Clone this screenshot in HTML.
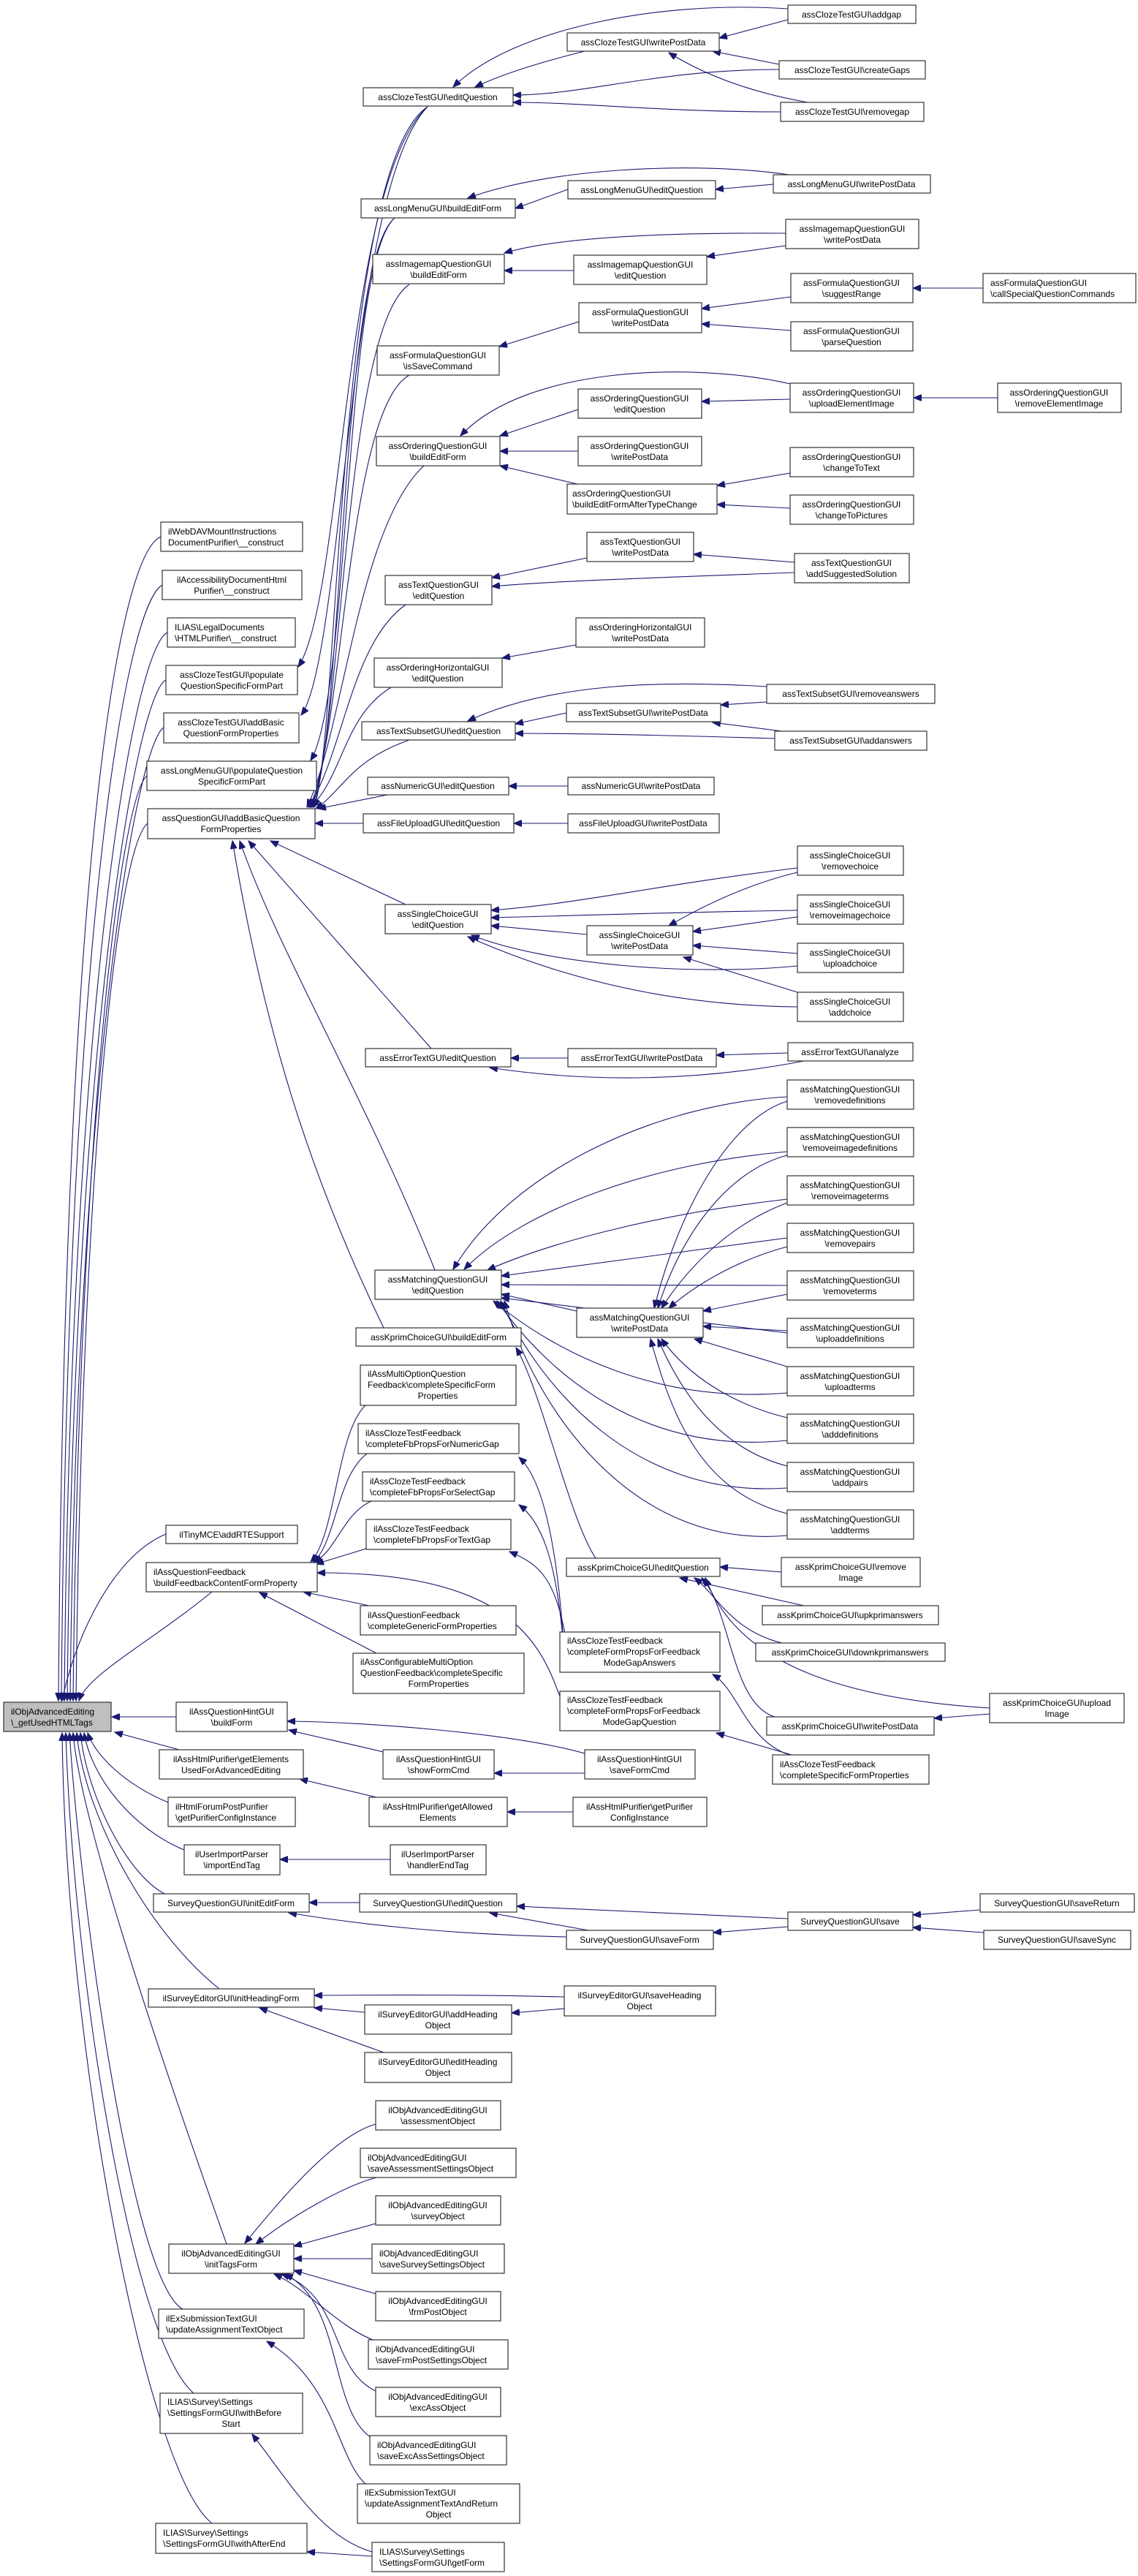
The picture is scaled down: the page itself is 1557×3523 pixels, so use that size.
<!DOCTYPE html>
<html><head><meta charset="utf-8"><style>
html,body{margin:0;padding:0;background:#fff}
svg{display:block}
text{font-family:"Liberation Sans",Arial,sans-serif;font-size:12px;fill:#000;text-anchor:middle}
text.l{text-anchor:start}
rect{fill:#fff;stroke:#333;stroke-width:1.2}
path{fill:none;stroke:#191970;stroke-width:1.1}
</style></head><body>
<svg width="1557" height="3523" viewBox="0 0 1557 3523" xmlns="http://www.w3.org/2000/svg">
<defs><marker id="a" markerUnits="userSpaceOnUse" markerWidth="12" markerHeight="9" refX="11" refY="4.5" orient="auto"><path d="M0,0 L11,4.5 L0,9 z" style="fill:#191970;stroke:#191970"/></marker></defs>
<g marker-end="url(#a)">
<!-- cloze -->
<path d="M1066 95 C900 95 800 130 702 130"/>
<path d="M1068 153 C900 153 800 140 702 140"/>
<path d="M1078 12 C900 0 700 40 620 119"/>
<path d="M800 70 C720 90 680 105 650 119"/>
<path d="M1078 27 L984 52"/>
<path d="M1066 88 L975 70"/>
<path d="M1105 140 C1020 125 960 100 915 72"/>
<!-- longmenu -->
<path d="M777 259 L705 285"/>
<path d="M1080 239 C950 220 750 230 640 271"/>
<path d="M1058 252 L979 259"/>
<!-- imagemap -->
<path d="M785 370 L690 370"/>
<path d="M1075 336 L967 351"/>
<path d="M1075 319 C900 318 760 325 690 346"/>
<!-- formula -->
<path d="M792 440 L683 474"/>
<path d="M1082 406 L960 422"/>
<path d="M1082 452 L960 443"/>
<path d="M1345 394 L1249 394"/>
<!-- ordering -->
<path d="M791 560 L684 596"/>
<path d="M791 617 L684 617"/>
<path d="M790 662 L684 637"/>
<path d="M1081 525 C950 495 720 500 630 596"/>
<path d="M1081 546 L960 549"/>
<path d="M1365 544 L1250 544"/>
<path d="M1081 647 L981 664"/>
<path d="M1081 695 L981 690"/>
<!-- textquestion -->
<path d="M803 763 L673 790"/>
<path d="M1087 783 C900 790 750 795 673 802"/>
<path d="M1087 769 L949 758"/>
<path d="M788 882 L687 900"/>
<!-- textsubset -->
<path d="M775 975 L705 990"/>
<path d="M1060 1010 C900 1005 780 1003 705 1003"/>
<path d="M1049 939 C900 930 750 935 640 986"/>
<path d="M1049 960 L986 964"/>
<path d="M1070 1000 L975 988"/>
<path d="M777 1075 L696 1075"/>
<path d="M777 1126 L703 1126"/>
<!-- singlechoice -->
<path d="M1091 1187 C900 1210 800 1235 672 1245"/>
<path d="M1091 1245 C900 1248 800 1252 672 1255"/>
<path d="M803 1278 L672 1266"/>
<path d="M1091 1321 C950 1335 750 1320 645 1279"/>
<path d="M1091 1377 C900 1375 750 1330 640 1281"/>
<path d="M1091 1193 C1020 1210 960 1240 915 1266"/>
<path d="M1091 1254 L948 1274"/>
<path d="M1091 1304 L948 1293"/>
<path d="M1091 1357 L935 1309"/>
<!-- errortext -->
<path d="M777 1447 L699 1447"/>
<path d="M1100 1451 C950 1480 800 1480 670 1460"/>
<path d="M1078 1440 L980 1443"/>
<!-- matching -->
<path d="M1077 1500 C900 1510 700 1600 620 1736"/>
<path d="M1077 1575 C900 1590 720 1650 635 1736"/>
<path d="M1077 1640 C900 1660 750 1700 667 1737"/>
<path d="M1077 1693 L686 1745"/>
<path d="M1077 1758 L686 1757"/>
<path d="M1077 1823 L686 1775"/>
<path d="M1077 1905 C900 1920 760 1850 675 1779"/>
<path d="M1077 1970 C880 1990 750 1880 680 1779"/>
<path d="M1077 2035 C870 2050 740 1900 685 1779"/>
<path d="M1077 2100 C860 2120 730 1920 690 1779"/>
<path d="M789 1793 L686 1770"/>
<path d="M1077 1506 C1000 1530 930 1650 895 1789"/>
<path d="M1077 1580 C1000 1600 935 1680 900 1789"/>
<path d="M1077 1645 C1010 1670 950 1720 905 1789"/>
<path d="M1077 1705 C1020 1720 960 1750 915 1789"/>
<path d="M1077 1770 L962 1793"/>
<path d="M1077 1820 L962 1814"/>
<path d="M1077 1869 L950 1831"/>
<path d="M1077 1939 C1000 1920 940 1880 905 1831"/>
<path d="M1077 2005 C980 1980 930 1900 900 1831"/>
<path d="M1077 2070 C960 2040 920 1940 890 1831"/>
<!-- kprim -->
<path d="M815 2131 C780 2080 740 1900 706 1843"/>
<path d="M1069 2150 L985 2143"/>
<path d="M1100 2196 L930 2158"/>
<path d="M1070 2247 C1000 2230 980 2180 950 2158"/>
<path d="M1060 2348 C1000 2330 1000 2200 960 2158"/>
<path d="M1354 2336 C1100 2320 1000 2250 965 2158"/>
<path d="M1354 2344 L1278 2350"/>
<!-- feedback -->
<path d="M500 1922 C460 1960 460 2100 425 2136"/>
<path d="M502 1988 C460 2020 460 2110 428 2137"/>
<path d="M508 2053 C470 2070 460 2120 430 2137"/>
<path d="M501 2118 L432 2139"/>
<path d="M505 2196 L415 2177"/>
<path d="M515 2261 L355 2178"/>
<path d="M766 2320 C740 2250 700 2150 434 2151"/>
<path d="M770 2232 C760 2100 740 2020 710 1993"/>
<path d="M770 2240 C760 2130 740 2080 710 2058"/>
<path d="M775 2245 C760 2160 740 2140 697 2122"/>
<path d="M1080 2400 C1020 2380 1010 2310 975 2290"/>
<path d="M1090 2402 L980 2370"/>
<!-- hint / purifier / survey -->
<path d="M524 2396 C480 2385 430 2375 395 2366"/>
<path d="M800 2398 C700 2370 500 2355 393 2354"/>
<path d="M800 2425 L676 2425"/>
<path d="M515 2458 L410 2433"/>
<path d="M784 2478 L694 2478"/>
<path d="M534 2543 L383 2543"/>
<path d="M492 2602 L423 2602"/>
<path d="M775 2649 C600 2645 480 2630 395 2616"/>
<path d="M805 2640 L670 2616"/>
<path d="M1078 2624 L707 2607"/>
<path d="M1078 2635 L976 2643"/>
<path d="M1341 2612 L1249 2619"/>
<path d="M1346 2643 L1249 2636"/>
<path d="M772 2731 C650 2728 550 2728 430 2729"/>
<path d="M772 2747 L700 2753"/>
<path d="M499 2752 L430 2746"/>
<path d="M525 2807 L355 2746"/>
<!-- adv editing -->
<path d="M514 2905 C460 2920 390 3000 335 3068"/>
<path d="M515 2978 C470 2990 400 3030 350 3069"/>
<path d="M514 3041 L402 3072"/>
<path d="M509 3089 L402 3089"/>
<path d="M514 3137 L402 3105"/>
<path d="M510 3200 C460 3180 420 3130 375 3110"/>
<path d="M514 3270 C450 3240 470 3140 385 3110"/>
<path d="M510 3335 C450 3300 470 3150 390 3110"/>
<path d="M500 3397 C460 3360 460 3260 365 3202"/>
<path d="M509 3490 C440 3470 400 3400 345 3329"/>
<path d="M509 3496 L420 3490"/>
<!-- to addBasic -->
<path d="M585 146 C460 230 465 1000 430 1104"/>
<path d="M540 298 C465 360 470 1000 428 1104"/>
<path d="M560 389 C470 450 470 1000 426 1104"/>
<path d="M560 513 C475 560 470 1000 424 1104"/>
<path d="M580 637 C490 720 470 1000 420 1104"/>
<path d="M555 827 C480 880 470 1030 422 1104"/>
<path d="M535 940 C470 980 470 1060 425 1104"/>
<path d="M560 1012 C480 1040 470 1080 432 1106"/>
<path d="M530 1087 L435 1106"/>
<path d="M497 1126 L431 1126"/>
<path d="M555 1237 L370 1150"/>
<path d="M590 1434 L340 1150"/>
<path d="M595 1737 C500 1500 380 1300 328 1150"/>
<path d="M525 1816 C420 1600 360 1400 318 1150"/>
<path d="M585 146 C470 250 470 820 408 912"/>
<path d="M585 146 C475 260 470 900 412 978"/>
<path d="M540 298 C470 360 480 950 425 1040"/>
<!-- to root -->
<path d="M220 734 C160 760 88 1200 80 2326"/>
<path d="M222 800 C170 830 92 1300 84 2326"/>
<path d="M229 865 C180 890 96 1400 88 2326"/>
<path d="M227 930 C185 950 100 1450 92 2326"/>
<path d="M224 995 C185 1020 104 1500 96 2326"/>
<path d="M201 1061 C165 1090 108 1550 100 2326"/>
<path d="M202 1126 C160 1160 112 1600 104 2326"/>
<path d="M227 2098 C150 2130 100 2250 85 2326"/>
<path d="M290 2177 C200 2250 120 2290 108 2326"/>
<path d="M241 2348 L153 2348"/>
<path d="M245 2393 L157 2369"/>
<path d="M230 2465 C170 2440 130 2400 120 2370"/>
<path d="M252 2530 C180 2500 125 2430 115 2370"/>
<path d="M225 2590 C170 2560 118 2450 110 2370"/>
<path d="M300 2720 C200 2640 115 2480 105 2370"/>
<path d="M310 3069 C250 2900 110 2500 100 2370"/>
<path d="M250 3158 C180 3120 110 2600 95 2370"/>
<path d="M265 3273 C180 3200 100 2700 90 2370"/>
<path d="M290 3451 C200 3380 90 2800 85 2370"/>
</g>
<g>
<rect x="497" y="120" width="205" height="25"/><text x="599" y="137">assClozeTestGUI\editQuestion</text>
<rect x="776" y="45" width="208" height="25"/><text x="880" y="62">assClozeTestGUI\writePostData</text>
<rect x="1078" y="7" width="175" height="25"/><text x="1165" y="24">assClozeTestGUI\addgap</text>
<rect x="1066" y="83" width="200" height="25"/><text x="1166" y="100">assClozeTestGUI\createGaps</text>
<rect x="1068" y="140" width="196" height="26"/><text x="1166" y="157">assClozeTestGUI\removegap</text>
<rect x="494" y="272" width="211" height="26"/><text x="599" y="289">assLongMenuGUI\buildEditForm</text>
<rect x="777" y="247" width="202" height="25"/><text x="878" y="264">assLongMenuGUI\editQuestion</text>
<rect x="1058" y="239" width="215" height="25"/><text x="1165" y="256">assLongMenuGUI\writePostData</text>
<rect x="510" y="348" width="180" height="40"/><text x="600" y="365">assImagemapQuestionGUI</text><text x="600" y="380">\buildEditForm</text>
<rect x="785" y="349" width="182" height="40"/><text x="876" y="366">assImagemapQuestionGUI</text><text x="876" y="381">\editQuestion</text>
<rect x="1075" y="300" width="182" height="40"/><text x="1166" y="317">assImagemapQuestionGUI</text><text x="1166" y="332">\writePostData</text>
<rect x="516" y="473" width="167" height="40"/><text x="599" y="490">assFormulaQuestionGUI</text><text x="599" y="505">\isSaveCommand</text>
<rect x="792" y="414" width="168" height="41"/><text x="876" y="431">assFormulaQuestionGUI</text><text x="876" y="446">\writePostData</text>
<rect x="1082" y="374" width="167" height="40"/><text x="1165" y="391">assFormulaQuestionGUI</text><text x="1165" y="406">\suggestRange</text>
<rect x="1345" y="374" width="209" height="40"/><text class="l" x="1355" y="391">assFormulaQuestionGUI</text><text class="l" x="1355" y="406">\callSpecialQuestionCommands</text>
<rect x="1082" y="440" width="167" height="40"/><text x="1165" y="457">assFormulaQuestionGUI</text><text x="1165" y="472">\parseQuestion</text>
<rect x="515" y="597" width="169" height="40"/><text x="599" y="614">assOrderingQuestionGUI</text><text x="599" y="629">\buildEditForm</text>
<rect x="791" y="532" width="169" height="40"/><text x="875" y="549">assOrderingQuestionGUI</text><text x="875" y="564">\editQuestion</text>
<rect x="1081" y="524" width="169" height="40"/><text x="1165" y="541">assOrderingQuestionGUI</text><text x="1165" y="556">\uploadElementImage</text>
<rect x="1365" y="524" width="169" height="40"/><text x="1449" y="541">assOrderingQuestionGUI</text><text x="1449" y="556">\removeElementImage</text>
<rect x="791" y="597" width="169" height="40"/><text x="875" y="614">assOrderingQuestionGUI</text><text x="875" y="629">\writePostData</text>
<rect x="1081" y="612" width="169" height="40"/><text x="1165" y="629">assOrderingQuestionGUI</text><text x="1165" y="644">\changeToText</text>
<rect x="776" y="662" width="205" height="41"/><text class="l" x="783" y="679">assOrderingQuestionGUI</text><text class="l" x="783" y="694">\buildEditFormAfterTypeChange</text>
<rect x="1081" y="677" width="169" height="40"/><text x="1165" y="694">assOrderingQuestionGUI</text><text x="1165" y="709">\changeToPictures</text>
<rect x="527" y="787" width="146" height="40"/><text x="600" y="804">assTextQuestionGUI</text><text x="600" y="819">\editQuestion</text>
<rect x="803" y="728" width="146" height="40"/><text x="876" y="745">assTextQuestionGUI</text><text x="876" y="760">\writePostData</text>
<rect x="1087" y="757" width="157" height="40"/><text x="1165" y="774">assTextQuestionGUI</text><text x="1165" y="789">\addSuggestedSolution</text>
<rect x="512" y="900" width="175" height="40"/><text x="599" y="917">assOrderingHorizontalGUI</text><text x="599" y="932">\editQuestion</text>
<rect x="788" y="845" width="176" height="40"/><text x="876" y="862">assOrderingHorizontalGUI</text><text x="876" y="877">\writePostData</text>
<rect x="495" y="987" width="210" height="25"/><text x="600" y="1004">assTextSubsetGUI\editQuestion</text>
<rect x="775" y="962" width="211" height="25"/><text x="880" y="979">assTextSubsetGUI\writePostData</text>
<rect x="1049" y="936" width="230" height="26"/><text x="1164" y="953">assTextSubsetGUI\removeanswers</text>
<rect x="1060" y="1000" width="208" height="26"/><text x="1164" y="1017">assTextSubsetGUI\addanswers</text>
<rect x="503" y="1063" width="193" height="24"/><text x="599" y="1079">assNumericGUI\editQuestion</text>
<rect x="777" y="1063" width="200" height="24"/><text x="877" y="1079">assNumericGUI\writePostData</text>
<rect x="497" y="1113" width="206" height="26"/><text x="600" y="1130">assFileUploadGUI\editQuestion</text>
<rect x="777" y="1113" width="207" height="26"/><text x="880" y="1130">assFileUploadGUI\writePostData</text>
<rect x="527" y="1237" width="145" height="40"/><text x="599" y="1254">assSingleChoiceGUI</text><text x="599" y="1269">\editQuestion</text>
<rect x="803" y="1266" width="145" height="40"/><text x="875" y="1283">assSingleChoiceGUI</text><text x="875" y="1298">\writePostData</text>
<rect x="1091" y="1157" width="145" height="40"/><text x="1163" y="1174">assSingleChoiceGUI</text><text x="1163" y="1189">\removechoice</text>
<rect x="1091" y="1224" width="145" height="40"/><text x="1163" y="1241">assSingleChoiceGUI</text><text x="1163" y="1256">\removeimagechoice</text>
<rect x="1091" y="1290" width="145" height="40"/><text x="1163" y="1307">assSingleChoiceGUI</text><text x="1163" y="1322">\uploadchoice</text>
<rect x="1091" y="1357" width="145" height="40"/><text x="1163" y="1374">assSingleChoiceGUI</text><text x="1163" y="1389">\addchoice</text>
<rect x="500" y="1434" width="199" height="25"/><text x="599" y="1451">assErrorTextGUI\editQuestion</text>
<rect x="777" y="1434" width="203" height="25"/><text x="878" y="1451">assErrorTextGUI\writePostData</text>
<rect x="1078" y="1426" width="171" height="25"/><text x="1163" y="1443">assErrorTextGUI\analyze</text>
<rect x="1077" y="1477" width="173" height="40"/><text x="1163" y="1494">assMatchingQuestionGUI</text><text x="1163" y="1509">\removedefinitions</text>
<rect x="1077" y="1542" width="173" height="40"/><text x="1163" y="1559">assMatchingQuestionGUI</text><text x="1163" y="1574">\removeimagedefinitions</text>
<rect x="1077" y="1608" width="173" height="40"/><text x="1163" y="1625">assMatchingQuestionGUI</text><text x="1163" y="1640">\removeimageterms</text>
<rect x="1077" y="1673" width="173" height="40"/><text x="1163" y="1690">assMatchingQuestionGUI</text><text x="1163" y="1705">\removepairs</text>
<rect x="1077" y="1738" width="173" height="40"/><text x="1163" y="1755">assMatchingQuestionGUI</text><text x="1163" y="1770">\removeterms</text>
<rect x="1077" y="1803" width="173" height="40"/><text x="1163" y="1820">assMatchingQuestionGUI</text><text x="1163" y="1835">\uploaddefinitions</text>
<rect x="1077" y="1869" width="173" height="40"/><text x="1163" y="1886">assMatchingQuestionGUI</text><text x="1163" y="1901">\uploadterms</text>
<rect x="1077" y="1934" width="173" height="40"/><text x="1163" y="1951">assMatchingQuestionGUI</text><text x="1163" y="1966">\adddefinitions</text>
<rect x="1077" y="2000" width="173" height="40"/><text x="1163" y="2017">assMatchingQuestionGUI</text><text x="1163" y="2032">\addpairs</text>
<rect x="1077" y="2065" width="173" height="40"/><text x="1163" y="2082">assMatchingQuestionGUI</text><text x="1163" y="2097">\addterms</text>
<rect x="513" y="1737" width="173" height="40"/><text x="599" y="1754">assMatchingQuestionGUI</text><text x="599" y="1769">\editQuestion</text>
<rect x="789" y="1789" width="173" height="40"/><text x="875" y="1806">assMatchingQuestionGUI</text><text x="875" y="1821">\writePostData</text>
<rect x="487" y="1816" width="226" height="25"/><text x="600" y="1833">assKprimChoiceGUI\buildEditForm</text>
<rect x="493" y="1867" width="213" height="55"/><text class="l" x="503" y="1883">ilAssMultiOptionQuestion</text><text class="l" x="503" y="1898">Feedback\completeSpecificForm</text><text x="599" y="1913">Properties</text>
<rect x="490" y="1947" width="220" height="41"/><text class="l" x="500" y="1964">ilAssClozeTestFeedback</text><text class="l" x="500" y="1979">\completeFbPropsForNumericGap</text>
<rect x="496" y="2013" width="208" height="40"/><text class="l" x="506" y="2030">ilAssClozeTestFeedback</text><text class="l" x="506" y="2045">\completeFbPropsForSelectGap</text>
<rect x="501" y="2078" width="198" height="41"/><text class="l" x="511" y="2095">ilAssClozeTestFeedback</text><text class="l" x="511" y="2110">\completeFbPropsForTextGap</text>
<rect x="493" y="2196" width="213" height="40"/><text class="l" x="503" y="2213">ilAssQuestionFeedback</text><text class="l" x="503" y="2228">\completeGenericFormProperties</text>
<rect x="483" y="2261" width="234" height="55"/><text class="l" x="493" y="2277">ilAssConfigurableMultiOption</text><text class="l" x="493" y="2292">QuestionFeedback\completeSpecific</text><text x="600" y="2307">FormProperties</text>
<rect x="775" y="2131" width="210" height="25"/><text x="880" y="2148">assKprimChoiceGUI\editQuestion</text>
<rect x="1069" y="2130" width="190" height="40"/><text x="1164" y="2147">assKprimChoiceGUI\remove</text><text x="1164" y="2162">Image</text>
<rect x="1043" y="2196" width="241" height="26"/><text x="1163" y="2213">assKprimChoiceGUI\upkprimanswers</text>
<rect x="1034" y="2247" width="259" height="25"/><text x="1163" y="2264">assKprimChoiceGUI\downkprimanswers</text>
<rect x="1354" y="2316" width="184" height="40"/><text x="1446" y="2333">assKprimChoiceGUI\upload</text><text x="1446" y="2348">Image</text>
<rect x="1049" y="2348" width="229" height="25"/><text x="1163" y="2365">assKprimChoiceGUI\writePostData</text>
<rect x="766" y="2232" width="219" height="55"/><text class="l" x="776" y="2248">ilAssClozeTestFeedback</text><text class="l" x="776" y="2263">\completeFormPropsForFeedback</text><text x="875" y="2278">ModeGapAnswers</text>
<rect x="766" y="2313" width="219" height="54"/><text class="l" x="776" y="2329">ilAssClozeTestFeedback</text><text class="l" x="776" y="2344">\completeFormPropsForFeedback</text><text x="875" y="2359">ModeGapQuestion</text>
<rect x="524" y="2393" width="152" height="40"/><text x="600" y="2410">ilAssQuestionHintGUI</text><text x="600" y="2425">\showFormCmd</text>
<rect x="800" y="2393" width="151" height="40"/><text x="875" y="2410">ilAssQuestionHintGUI</text><text x="875" y="2425">\saveFormCmd</text>
<rect x="1057" y="2400" width="214" height="40"/><text class="l" x="1067" y="2417">ilAssClozeTestFeedback</text><text class="l" x="1067" y="2432">\completeSpecificFormProperties</text>
<rect x="505" y="2458" width="189" height="40"/><text x="599" y="2475">ilAssHtmlPurifier\getAllowed</text><text x="599" y="2490">Elements</text>
<rect x="784" y="2458" width="183" height="40"/><text x="875" y="2475">ilAssHtmlPurifier\getPurifier</text><text x="875" y="2490">ConfigInstance</text>
<rect x="534" y="2523" width="131" height="41"/><text x="599" y="2540">ilUserImportParser</text><text x="599" y="2555">\handlerEndTag</text>
<rect x="492" y="2590" width="215" height="25"/><text x="599" y="2607">SurveyQuestionGUI\editQuestion</text>
<rect x="775" y="2640" width="201" height="26"/><text x="875" y="2657">SurveyQuestionGUI\saveForm</text>
<rect x="1078" y="2615" width="171" height="25"/><text x="1163" y="2632">SurveyQuestionGUI\save</text>
<rect x="1341" y="2590" width="211" height="25"/><text x="1446" y="2607">SurveyQuestionGUI\saveReturn</text>
<rect x="1346" y="2640" width="201" height="26"/><text x="1446" y="2657">SurveyQuestionGUI\saveSync</text>
<rect x="499" y="2742" width="201" height="40"/><text x="599" y="2759">ilSurveyEditorGUI\addHeading</text><text x="599" y="2774">Object</text>
<rect x="499" y="2807" width="201" height="41"/><text x="599" y="2824">ilSurveyEditorGUI\editHeading</text><text x="599" y="2839">Object</text>
<rect x="772" y="2716" width="207" height="41"/><text x="875" y="2733">ilSurveyEditorGUI\saveHeading</text><text x="875" y="2748">Object</text>
<rect x="514" y="2873" width="171" height="40"/><text x="599" y="2890">ilObjAdvancedEditingGUI</text><text x="599" y="2905">\assessmentObject</text>
<rect x="493" y="2938" width="213" height="40"/><text class="l" x="503" y="2955">ilObjAdvancedEditingGUI</text><text class="l" x="503" y="2970">\saveAssessmentSettingsObject</text>
<rect x="514" y="3003" width="171" height="40"/><text x="599" y="3020">ilObjAdvancedEditingGUI</text><text x="599" y="3035">\surveyObject</text>
<rect x="509" y="3069" width="181" height="40"/><text class="l" x="519" y="3086">ilObjAdvancedEditingGUI</text><text class="l" x="519" y="3101">\saveSurveySettingsObject</text>
<rect x="514" y="3134" width="171" height="40"/><text x="599" y="3151">ilObjAdvancedEditingGUI</text><text x="599" y="3166">\frmPostObject</text>
<rect x="504" y="3200" width="191" height="40"/><text class="l" x="514" y="3217">ilObjAdvancedEditingGUI</text><text class="l" x="514" y="3232">\saveFrmPostSettingsObject</text>
<rect x="514" y="3265" width="171" height="40"/><text x="599" y="3282">ilObjAdvancedEditingGUI</text><text x="599" y="3297">\excAssObject</text>
<rect x="506" y="3331" width="187" height="40"/><text class="l" x="516" y="3348">ilObjAdvancedEditingGUI</text><text class="l" x="516" y="3363">\saveExcAssSettingsObject</text>
<rect x="489" y="3397" width="222" height="54"/><text class="l" x="499" y="3413">ilExSubmissionTextGUI</text><text class="l" x="499" y="3428">\updateAssignmentTextAndReturn</text><text x="600" y="3443">Object</text>
<rect x="509" y="3477" width="181" height="40"/><text class="l" x="519" y="3494">ILIAS\Survey\Settings</text><text class="l" x="519" y="3509">\SettingsFormGUI\getForm</text>

<rect x="220" y="714" width="194" height="40"/><text class="l" x="230" y="731">ilWebDAVMountInstructions</text><text class="l" x="230" y="746">DocumentPurifier\__construct</text>
<rect x="222" y="780" width="191" height="40"/><text x="317" y="797">ilAccessibilityDocumentHtml</text><text x="317" y="812">Purifier\__construct</text>
<rect x="229" y="845" width="175" height="40"/><text class="l" x="239" y="862">ILIAS\LegalDocuments</text><text class="l" x="239" y="877">\HTMLPurifier\__construct</text>
<rect x="227" y="910" width="180" height="40"/><text x="317" y="927">assClozeTestGUI\populate</text><text x="317" y="942">QuestionSpecificFormPart</text>
<rect x="224" y="975" width="185" height="41"/><text x="316" y="992">assClozeTestGUI\addBasic</text><text x="316" y="1007">QuestionFormProperties</text>
<rect x="201" y="1041" width="232" height="40"/><text x="317" y="1058">assLongMenuGUI\populateQuestion</text><text x="317" y="1073">SpecificFormPart</text>
<rect x="202" y="1106" width="229" height="41"/><text x="316" y="1123">assQuestionGUI\addBasicQuestion</text><text x="316" y="1138">FormProperties</text>
<rect x="227" y="2086" width="180" height="25"/><text x="317" y="2103">ilTinyMCE\addRTESupport</text>
<rect x="200" y="2137" width="234" height="40"/><text class="l" x="210" y="2154">ilAssQuestionFeedback</text><text class="l" x="210" y="2169">\buildFeedbackContentFormProperty</text>
<rect x="241" y="2328" width="152" height="40"/><text x="317" y="2345">ilAssQuestionHintGUI</text><text x="317" y="2360">\buildForm</text>
<rect x="218" y="2393" width="197" height="40"/><text x="316" y="2410">ilAssHtmlPurifier\getElements</text><text x="316" y="2425">UsedForAdvancedEditing</text>
<rect x="230" y="2458" width="174" height="40"/><text class="l" x="240" y="2475">ilHtmlForumPostPurifier</text><text class="l" x="240" y="2490">\getPurifierConfigInstance</text>
<rect x="252" y="2523" width="131" height="41"/><text x="317" y="2540">ilUserImportParser</text><text x="317" y="2555">\importEndTag</text>
<rect x="210" y="2590" width="213" height="25"/><text x="316" y="2607">SurveyQuestionGUI\initEditForm</text>
<rect x="203" y="2720" width="227" height="25"/><text x="316" y="2737">ilSurveyEditorGUI\initHeadingForm</text>
<rect x="231" y="3069" width="171" height="40"/><text x="316" y="3086">ilObjAdvancedEditingGUI</text><text x="316" y="3101">\initTagsForm</text>
<rect x="217" y="3158" width="199" height="40"/><text class="l" x="227" y="3175">ilExSubmissionTextGUI</text><text class="l" x="227" y="3190">\updateAssignmentTextObject</text>
<rect x="219" y="3273" width="195" height="55"/><text class="l" x="229" y="3289">ILIAS\Survey\Settings</text><text class="l" x="229" y="3304">\SettingsFormGUI\withBefore</text><text x="316" y="3319">Start</text>
<rect x="213" y="3451" width="207" height="41"/><text class="l" x="223" y="3468">ILIAS\Survey\Settings</text><text class="l" x="223" y="3483">\SettingsFormGUI\withAfterEnd</text>
<rect x="5" y="2328" width="147" height="40" style="fill:#bfbfbf"/><text class="l" x="15" y="2345">ilObjAdvancedEditing</text><text class="l" x="15" y="2360">\_getUsedHTMLTags</text>
</g>
</svg>
</body></html>
